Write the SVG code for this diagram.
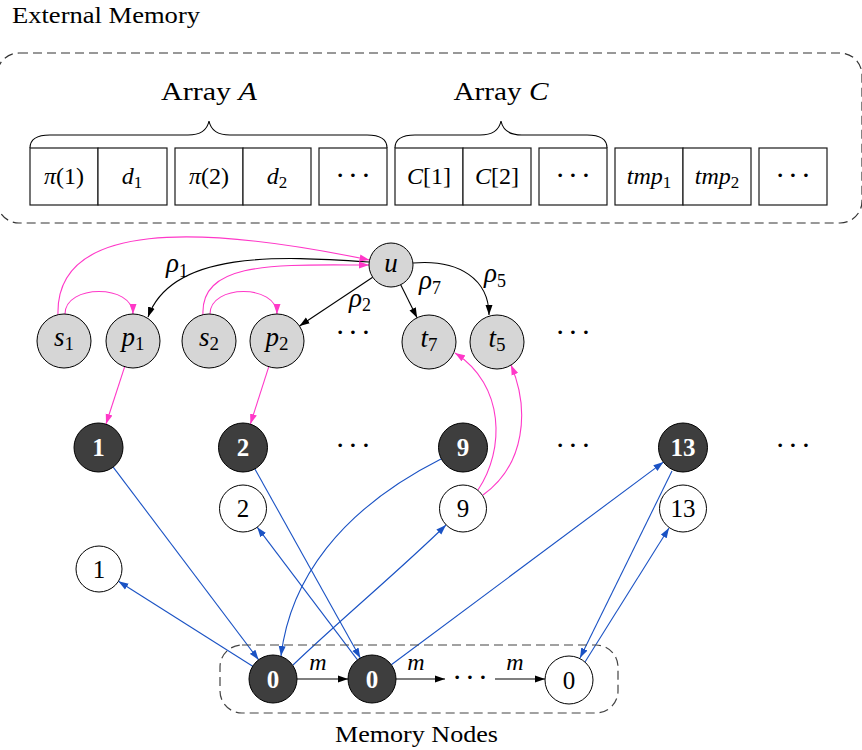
<svg xmlns="http://www.w3.org/2000/svg" width="862" height="750" viewBox="0 0 862 750">
<defs>
<style>
.t{font-family:"Liberation Serif","Times New Roman",serif;fill:#000}
.i{font-style:italic}
.cell{fill:#fff;stroke:#1a1a1a;stroke-width:1.2}
.g{fill:#d6d6d6;stroke:#000;stroke-width:1}
.d{fill:#3e3e3e;stroke:#000;stroke-width:1}
.w{fill:#fff;stroke:#000;stroke-width:1}
.bk{fill:none;stroke:#000;stroke-width:1.1}
.pk{fill:none;stroke:#ff38c8;stroke-width:1.1}
.bl{fill:none;stroke:#1a52c4;stroke-width:1.1}
.dash{fill:none;stroke:#333;stroke-width:1.2;stroke-dasharray:9 5}
.brace{fill:none;stroke:#000;stroke-width:1.1}
.lbl{font-size:27px;text-anchor:middle}
.ctxt{font-size:24px;text-anchor:middle}
.num{font-size:25px;text-anchor:middle}
.wn{fill:#fff;font-weight:bold}
.dots{font-family:"Liberation Serif","Times New Roman",serif;font-size:22px;text-anchor:middle;fill:#000;font-weight:bold}
</style>
<marker id="ab" markerUnits="userSpaceOnUse" markerWidth="10" markerHeight="8" refX="10" refY="4" orient="auto"><path d="M0,0.5 L10,4 L0,7.5 z" fill="#000"/></marker>
<marker id="ap" markerUnits="userSpaceOnUse" markerWidth="10" markerHeight="8" refX="10" refY="4" orient="auto"><path d="M0,0.5 L10,4 L0,7.5 z" fill="#ff38c8"/></marker>
<marker id="al" markerUnits="userSpaceOnUse" markerWidth="10" markerHeight="8" refX="10" refY="4" orient="auto"><path d="M0,0.5 L10,4 L0,7.5 z" fill="#1a52c4"/></marker>
</defs>
<rect width="862" height="750" fill="#fff"/>

<text class="t" x="12" y="23" font-size="24" textLength="188" lengthAdjust="spacingAndGlyphs">External Memory</text>

<g id="external-memory">
<rect class="dash" x="-3" y="53" width="865" height="170" rx="22"/>
</g>

<g id="array-a-brace">
<path class="brace" d="M30,148 C30,139 38,135 50,135 L188,135 C200,135 207,131 209,121 C211,131 218,135 230,135 L367,135 C379,135 387,139 387,148"/>
<text class="t" x="209" y="100" font-size="26" text-anchor="middle" textLength="96" lengthAdjust="spacingAndGlyphs">Array <tspan class="i">A</tspan></text>
</g>
<g id="array-c-brace">
<path class="brace" d="M395,148 C395,139 403,135 415,135 L480,135 C492,135 499,131 501,121 C503,131 510,135 522,135 L587,135 C599,135 607,139 607,148"/>
<text class="t" x="501" y="100" font-size="26" text-anchor="middle" textLength="95" lengthAdjust="spacingAndGlyphs">Array <tspan class="i">C</tspan></text>
</g>

<g id="cells">
<g id="cell-pi1"><rect class="cell" x="30" y="148" width="68" height="57"/><text class="t ctxt" x="64" y="184"><tspan class="i">π</tspan>(1)</text></g>
<g id="cell-d1"><rect class="cell" x="98" y="148" width="69" height="57"/><text class="t ctxt" x="132" y="184"><tspan class="i">d</tspan><tspan font-size="17" dy="4">1</tspan></text></g>
<g id="cell-pi2"><rect class="cell" x="175" y="148" width="68" height="57"/><text class="t ctxt" x="209" y="184"><tspan class="i">π</tspan>(2)</text></g>
<g id="cell-d2"><rect class="cell" x="243" y="148" width="68" height="57"/><text class="t ctxt" x="277" y="184"><tspan class="i">d</tspan><tspan font-size="17" dy="4">2</tspan></text></g>
<g id="cell-dots1"><rect class="cell" x="319" y="148" width="68" height="57"/><text class="dots" x="353" y="182">· · ·</text></g>
<g id="cell-c1"><rect class="cell" x="395" y="148" width="68" height="57"/><text class="t ctxt" x="429" y="184"><tspan class="i">C</tspan>[1]</text></g>
<g id="cell-c2"><rect class="cell" x="463" y="148" width="68" height="57"/><text class="t ctxt" x="497" y="184"><tspan class="i">C</tspan>[2]</text></g>
<g id="cell-dots2"><rect class="cell" x="539" y="148" width="68" height="57"/><text class="dots" x="573" y="182">· · ·</text></g>
<g id="cell-tmp1"><rect class="cell" x="615" y="148" width="68" height="57"/><text class="t ctxt" x="649" y="184"><tspan class="i">tmp</tspan><tspan font-size="17" dy="4">1</tspan></text></g>
<g id="cell-tmp2"><rect class="cell" x="683" y="148" width="68" height="57"/><text class="t ctxt" x="717" y="184"><tspan class="i">tmp</tspan><tspan font-size="17" dy="4">2</tspan></text></g>
<g id="cell-dots3"><rect class="cell" x="759" y="148" width="68" height="57"/><text class="dots" x="793" y="182">· · ·</text></g>
</g>

<g id="connectors">
<path class="bk" d="M369,262 C280,256 172,250 148,317" marker-end="url(#ab)"/>
<path class="bk" d="M372.7,277.2 L299.5,326" marker-end="url(#ab)"/>
<path class="bk" d="M400.7,284.7 L417.1,317.8" marker-end="url(#ab)"/>
<path class="bk" d="M413,263 C460,259 489,280 489,315" marker-end="url(#ab)"/>
<path class="pk" d="M58,315 C55,220 200,225 369.5,260" marker-end="url(#ap)"/>
<path class="pk" d="M203,315 C200,260 280,265 369,265" marker-end="url(#ap)"/>
<path class="pk" d="M65,314 C65,284 133,284 133,314" marker-end="url(#ap)"/>
<path class="pk" d="M210,314 C210,284 277,284 277,314" marker-end="url(#ap)"/>
<path class="pk" d="M124.7,366.7 L106,424" marker-end="url(#ap)"/>
<path class="pk" d="M268.8,366.7 L250.4,424" marker-end="url(#ap)"/>
<path class="pk" d="M478,490 C505,450 505,385 455,353" marker-end="url(#ap)"/>
<path class="pk" d="M483,495 C525,465 530,410 511,365" marker-end="url(#ap)"/>
<path class="bl" d="M113.2,467.1 L258.6,659.8" marker-end="url(#al)"/>
<path class="bl" d="M252.7,666.2 L118.4,581.3" marker-end="url(#al)"/>
<path class="bl" d="M254.9,468.9 L360.3,658" marker-end="url(#al)"/>
<path class="bl" d="M357.5,659.9 L257.2,527.2" marker-end="url(#al)"/>
<path class="bl" d="M441,459 C340,510 290,580 281,656" marker-end="url(#al)"/>
<path class="bl" d="M293,665 C340,620 400,570 446,525" marker-end="url(#al)"/>
<path class="bl" d="M391.3,664.7 L663.4,462.1" marker-end="url(#al)"/>
<path class="bl" d="M672,471 L580,658" marker-end="url(#al)"/>
<path class="bl" d="M585,662 L669,528" marker-end="url(#al)"/>
<path class="bk" d="M297,679 L348,679" marker-end="url(#ab)"/>
<path class="bk" d="M396,679 L445,679" marker-end="url(#ab)"/>
<path class="bk" d="M495,679 L545,679" marker-end="url(#ab)"/>
</g>

<g id="edge-labels">
<text class="t lbl" x="177" y="272"><tspan class="i">ρ</tspan><tspan font-size="18" dy="5">1</tspan></text>
<text class="t lbl" x="360" y="307"><tspan class="i">ρ</tspan><tspan font-size="18" dy="4">2</tspan></text>
<text class="t lbl" x="430" y="289"><tspan class="i">ρ</tspan><tspan font-size="18" dy="5">7</tspan></text>
<text class="t lbl" x="495" y="282"><tspan class="i">ρ</tspan><tspan font-size="18" dy="5">5</tspan></text>
<text class="t i ctxt" x="318" y="670">m</text>
<text class="t i ctxt" x="416" y="670">m</text>
<text class="t i ctxt" x="515" y="670">m</text>
</g>

<g id="node-u"><circle class="g" cx="391" cy="265" r="22"/><text class="t i lbl" x="391" y="272">u</text></g>
<g id="node-s1"><circle class="g" cx="64" cy="341" r="27"/><text class="t lbl" x="64" y="346"><tspan class="i">s</tspan><tspan font-size="19" dy="4">1</tspan></text></g>
<g id="node-p1"><circle class="g" cx="133" cy="341" r="27"/><text class="t lbl" x="133" y="346"><tspan class="i">p</tspan><tspan font-size="19" dy="4">1</tspan></text></g>
<g id="node-s2"><circle class="g" cx="209" cy="341" r="27"/><text class="t lbl" x="209" y="346"><tspan class="i">s</tspan><tspan font-size="19" dy="4">2</tspan></text></g>
<g id="node-p2"><circle class="g" cx="277" cy="341" r="27"/><text class="t lbl" x="277" y="346"><tspan class="i">p</tspan><tspan font-size="19" dy="4">2</tspan></text></g>
<g id="node-t7"><circle class="g" cx="429" cy="342" r="27"/><text class="t lbl" x="429" y="347"><tspan class="i">t</tspan><tspan font-size="19" dy="4">7</tspan></text></g>
<g id="node-t5"><circle class="g" cx="497" cy="342" r="27"/><text class="t lbl" x="497" y="347"><tspan class="i">t</tspan><tspan font-size="19" dy="4">5</tspan></text></g>
<text class="dots" x="353" y="339">· · ·</text>
<text class="dots" x="573" y="339">· · ·</text>

<g id="node-d1"><circle class="d" cx="98.5" cy="447.5" r="24.5"/><text class="t num wn" x="98.5" y="456">1</text></g>
<g id="node-d2"><circle class="d" cx="243" cy="447.5" r="24.5"/><text class="t num wn" x="243" y="456">2</text></g>
<g id="node-d9"><circle class="d" cx="463" cy="447.5" r="24.5"/><text class="t num wn" x="463" y="456">9</text></g>
<g id="node-d13"><circle class="d" cx="683" cy="447.5" r="24.5"/><text class="t num wn" x="683" y="456">13</text></g>
<text class="dots" x="353" y="452">· · ·</text>
<text class="dots" x="573" y="452">· · ·</text>
<text class="dots" x="793" y="452">· · ·</text>

<g id="node-w2"><circle class="w" cx="243" cy="508.5" r="23.5"/><text class="t num" x="243" y="517">2</text></g>
<g id="node-w9"><circle class="w" cx="463" cy="508.5" r="23.5"/><text class="t num" x="463" y="517">9</text></g>
<g id="node-w13"><circle class="w" cx="683" cy="508.5" r="23.5"/><text class="t num" x="683" y="517">13</text></g>
<g id="node-w1"><circle class="w" cx="99" cy="569" r="23"/><text class="t num" x="99" y="578">1</text></g>

<g id="memory-nodes">
<rect class="dash" x="220" y="645" width="398" height="68" rx="22" style="stroke:#444"/>
<g id="node-m0a"><circle class="d" cx="273" cy="679" r="24"/><text class="t num wn" x="273" y="688">0</text></g>
<g id="node-m0b"><circle class="d" cx="372" cy="679" r="24"/><text class="t num wn" x="372" y="688">0</text></g>
<text class="dots" x="470" y="684">· · ·</text>
<g id="node-m0c"><circle class="w" cx="569" cy="680" r="24"/><text class="t num" x="569" y="689">0</text></g>
<text class="t" x="416.5" y="742" font-size="24" text-anchor="middle" textLength="163" lengthAdjust="spacingAndGlyphs">Memory Nodes</text>
</g>
</svg>
